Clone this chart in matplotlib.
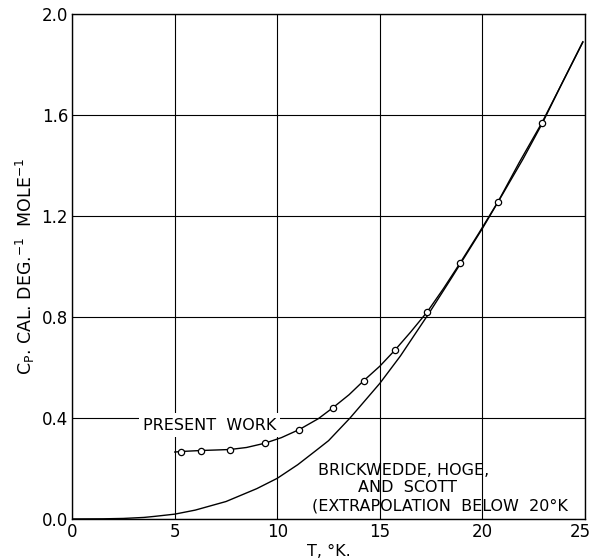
import matplotlib
matplotlib.use("Agg")
import matplotlib.pyplot as plt
import matplotlib.transforms as mtransforms

# Present work: measured points
pw_T = [5.29, 6.26, 7.69, 9.40, 11.07, 12.72, 14.22, 15.73, 17.32, 18.91, 20.77, 22.91]
pw_Cp = [0.267, 0.271, 0.275, 0.300, 0.354, 0.441, 0.548, 0.668, 0.821, 1.013, 1.257, 1.570]

# Present work: smooth drawn curve
pw_curve_T = [5.0, 5.29, 6.26, 7.0, 7.69, 8.5, 9.4, 10.2, 11.07, 12.0, 12.72, 13.5, 14.22,
              15.0, 15.73, 16.5, 17.32, 18.1, 18.91, 19.8, 20.77, 21.8, 22.91, 23.9, 24.9]
pw_curve_Cp = [0.265, 0.267, 0.271, 0.273, 0.275, 0.283, 0.300, 0.322, 0.354, 0.397, 0.441,
               0.492, 0.548, 0.605, 0.668, 0.740, 0.821, 0.912, 1.013, 1.128, 1.257, 1.412,
               1.570, 1.728, 1.890]

# Brickwedde, Hoge and Scott curve
bhs_T = [0.0, 1.5, 2.5, 3.5, 4.0, 5.0, 6.0, 7.5, 9.0, 10.0, 11.0, 11.92, 12.5, 13.55,
         15.0, 16.0, 17.4, 18.5, 20.0, 21.0, 22.0, 22.91, 23.9, 24.9]
bhs_Cp = [0.0, 0.0005, 0.002, 0.006, 0.010, 0.019, 0.035, 0.069, 0.120, 0.161, 0.215,
          0.273, 0.310, 0.400, 0.537, 0.645, 0.815, 0.955, 1.150, 1.288, 1.428, 1.565,
          1.728, 1.888]

x_ticks = [0, 5, 10, 15, 20, 25]
y_ticks = [0.0, 0.4, 0.8, 1.2, 1.6, 2.0]
y_ticklabels = ["0.0", "0.4", "0.8", "1.2", "1.6", "2.0"]

fig = plt.figure(figsize=(5.92, 5.58), dpi=100)
ax = fig.add_axes([0.122, 0.070, 0.866, 0.905])

ax.set_xlim(0, 25)
ax.set_ylim(0, 2.0)
ax.set_xticks(x_ticks)
ax.set_yticks(y_ticks)
ax.set_yticklabels(y_ticklabels)
ax.tick_params(length=0, labelsize=12, pad=3, colors="black")
ax.grid(True, color="black", linewidth=0.8, zorder=0)
for s in ax.spines.values():
    s.set_linewidth(1.0)

# keep the last x tick label inside the figure
last = ax.get_xticklabels()[-1]
last.set_transform(last.get_transform() +
                   mtransforms.ScaledTranslation(-5 / 100, 0, fig.dpi_scale_trans))

ax.plot(bhs_T, bhs_Cp, color="black", linewidth=1.0, zorder=3)
ax.plot(pw_curve_T, pw_curve_Cp, color="black", linewidth=1.0, zorder=3)
ax.plot(pw_T, pw_Cp, linestyle="none", marker="o", markersize=4.5,
        markerfacecolor="white", markeredgecolor="black", markeredgewidth=0.9, zorder=4)

ax.text(6.7, 0.372, "PRESENT  WORK", fontsize=11.5, ha="center", va="center",
        bbox=dict(facecolor="white", edgecolor="none", pad=3), zorder=2)
ax.text(12.0, 0.19, "BRICKWEDDE, HOGE,", fontsize=11.5, ha="left", va="center", zorder=2)
ax.text(13.95, 0.123, "AND  SCOTT", fontsize=11.5, ha="left", va="center", zorder=2)
ax.text(11.7, 0.05, "(EXTRAPOLATION  BELOW  20°K", fontsize=11.5, ha="left", va="center",
        zorder=2, clip_on=True)

ax.set_xlabel("T, °K.", fontsize=11.5, labelpad=2)
ax.set_ylabel(r"C$_\mathregular{P}$. CAL. DEG.$^\mathregular{-1}$  MOLE$^\mathregular{-1}$",
              fontsize=12.5, labelpad=3)

fig.savefig("out.png", dpi=100)
